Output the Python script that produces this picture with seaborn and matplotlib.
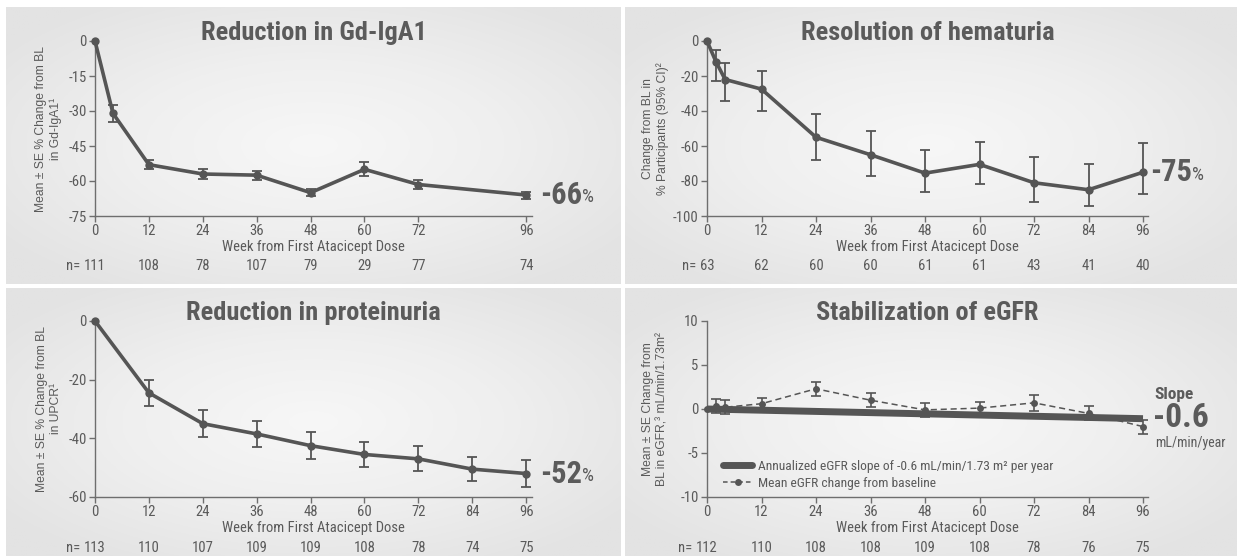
import numpy as np
import matplotlib
matplotlib.use("Agg")
import matplotlib.pyplot as plt
import seaborn as sns
from matplotlib.lines import Line2D
from matplotlib.transforms import blended_transform_factory
from matplotlib.colors import LinearSegmentedColormap
from matplotlib import font_manager

sns.set_theme(style="white")
_avail = {f.name for f in font_manager.fontManager.ttflist}
COND = next((f for f in ['Roboto Condensed', 'Liberation Sans Narrow', 'Arial Narrow',
                         'Open Sans Condensed', 'Liberation Sans'] if f in _avail), 'DejaVu Sans')
IS_COND = COND != 'Liberation Sans'
plt.rcParams['font.family'] = [COND, 'DejaVu Sans']

# ---------------- data ----------------
gd_weeks = [0, 4, 12, 24, 36, 48, 60, 72, 96]
gd_mean = [0, -31, -53, -57, -57.5, -65, -55, -61.5, -66]
gd_se = [0, 3.5, 2, 2, 2, 1.5, 3, 2, 1.5]
gd_n_weeks = [0, 12, 24, 36, 48, 60, 72, 96]
gd_n = [111, 108, 78, 107, 79, 29, 77, 74]
gd_xticks = [0, 12, 24, 36, 48, 60, 72, 96]
gd_yticks = [0, -15, -30, -45, -60, -75]

hem_weeks = [0, 2, 4, 12, 24, 36, 48, 60, 72, 84, 96]
hem_mean = [0, -12, -22, -27.5, -55, -65, -75.5, -70.5, -81, -85, -75]
hem_lo = [0, -23, -34.5, -40, -68, -77, -86, -81.5, -92, -94.5, -87.5]
hem_hi = [0, -5, -12.5, -17, -41.5, -51.5, -62.5, -57.5, -66.5, -70.5, -58.5]
hem_n_weeks = [0, 12, 24, 36, 48, 60, 72, 84, 96]
hem_n = [63, 62, 60, 60, 61, 61, 43, 41, 40]
hem_yticks = [0, -20, -40, -60, -80, -100]

pro_weeks = [0, 12, 24, 36, 48, 60, 72, 84, 96]
pro_mean = [0, -24.5, -35, -38.5, -42.5, -45.5, -47, -50.5, -52]
pro_se = [0, 4.5, 4.5, 4.5, 4.5, 4.2, 4.3, 4.0, 4.5]
pro_n = [113, 110, 107, 109, 109, 108, 78, 74, 75]
pro_yticks = [0, -20, -40, -60]

egfr_weeks = [0, 2, 4, 12, 24, 36, 48, 60, 72, 84, 96]
egfr_mean = [0, 0.3, 0.2, 0.6, 2.3, 1.0, -0.1, 0.1, 0.7, -0.5, -2.0]
egfr_se = [0, 0.8, 0.8, 0.7, 0.8, 0.8, 0.8, 0.7, 0.9, 0.8, 0.8]
egfr_slope_weeks = [0, 96]
egfr_slope_vals = [0, -1.1]
egfr_n_weeks = [0, 12, 24, 36, 48, 60, 72, 84, 96]
egfr_n = [112, 110, 108, 108, 109, 108, 78, 76, 75]
egfr_yticks = [10, 5, 0, -5, -10]

week_ticks = [0, 12, 24, 36, 48, 60, 72, 84, 96]

LINE = '#555555'
TXT = '#5a5a5a'
AX = '#6e6e6e'

S = 1.0 if IS_COND else 0.9   # font scale for non-condensed fallback
TICK_FS = 10.5 * S
TITLE_FS = 19 if IS_COND else 16
BIG_FS = 22 if IS_COND else 20
YLAB_FS = 8.7

W, H = 1237, 556
fig = plt.figure(figsize=(W / 100, H / 100), dpi=100)
fig.patch.set_facecolor('white')


def px_rect(x0, y0, x1, y1):
    return [x0 / W, 1 - y1 / H, (x1 - x0) / W, (y1 - y0) / H]


# panel backgrounds with soft radial gradient
bg_cmap = LinearSegmentedColormap.from_list('bg', ['#f7f7f7', '#efefef', '#e3e3e3'])
yy, xx = np.mgrid[-1:1:200j, -1:1:300j]
grad = np.clip(np.sqrt((xx * 0.8) ** 2 + (yy * 0.8) ** 2), 0, 1.0)
for (x0, y0, x1, y1) in [(6, 7, 621, 284), (625, 7, 1237, 284),
                         (6, 288, 621, 556), (625, 288, 1237, 556)]:
    bax = fig.add_axes(px_rect(x0, y0, x1, y1))
    bax.imshow(grad, cmap=bg_cmap, vmin=0, vmax=1.0, aspect='auto',
               interpolation='bilinear')
    bax.axis('off')


def style(ax, xlim, ylim, xticks, yticks, title, ylabel, ylab_x):
    ax.set_facecolor('none')
    ax.set_xlim(*xlim)
    ax.set_ylim(*ylim)
    ax.set_xticks(xticks)
    ax.set_yticks(yticks)
    ax.set_xticklabels([str(t) for t in xticks])
    ax.set_yticklabels([str(t) for t in yticks])
    for s in ['top', 'right']:
        ax.spines[s].set_visible(False)
    for s in ['left', 'bottom']:
        ax.spines[s].set_color(AX)
        ax.spines[s].set_linewidth(1.0)
    ax.tick_params(direction='out', length=4, width=1, color=AX,
                   labelsize=TICK_FS, labelcolor=TXT, pad=2,
                   left=True, bottom=True)
    ax.set_title(title, fontsize=TITLE_FS, fontweight='bold', color='#5b5b5b', pad=1)
    ax.set_xlabel('Week from First Atacicept Dose', fontsize=TICK_FS,
                  color=TXT, labelpad=1)
    ax.set_ylabel(ylabel, fontsize=YLAB_FS, color=TXT,
                  family=['Liberation Sans', 'DejaVu Sans'], linespacing=1.2)
    ax.yaxis.set_label_coords(ylab_x, 0.5)


def n_row(ax, weeks, ns, yfrac):
    tr = blended_transform_factory(ax.transData, ax.transAxes)
    first = None
    for w, n in zip(weeks, ns):
        t = ax.text(w, yfrac, str(n), transform=tr, ha='center', va='center',
                    fontsize=TICK_FS, color=TXT)
        if first is None:
            first = t
    ax.annotate('n= ', xy=(0, 0.5), xycoords=first, ha='right', va='center',
                fontsize=TICK_FS, color=TXT, annotation_clip=False)


def big_label(ax, x, y, txt):
    t = ax.text(x, y, txt, ha='left', va='center', fontsize=BIG_FS,
                fontweight='bold', color='#5b5b5b', clip_on=False)
    ax.annotate('%', xy=(1.0, 0.12), xycoords=t, ha='left', va='bottom',
                fontsize=BIG_FS * 0.62, color='#5b5b5b', annotation_clip=False)


def main_line(ax, x, y):
    sns.lineplot(x=x, y=y, ax=ax, color=LINE, lw=2.6, marker='o',
                 markersize=6, markeredgewidth=0, clip_on=False, zorder=3)


# ---------- Panel 1: Gd-IgA1 ----------
ax1 = fig.add_axes(px_rect(95, 41, 532, 216))
main_line(ax1, gd_weeks, gd_mean)
ax1.errorbar(gd_weeks[1:], gd_mean[1:], yerr=gd_se[1:], fmt='none',
             ecolor=LINE, elinewidth=1.3, capsize=3.5, capthick=1.3, zorder=2)
style(ax1, (0, 97.3), (-75, 0), gd_xticks, gd_yticks,
      'Reduction in Gd-IgA1', 'Mean ± SE % Change from BL\nin Gd-IgA1¹', -0.076)
n_row(ax1, gd_n_weeks, gd_n, -0.285)
big_label(ax1, 99.0, -66, '-66')

# ---------- Panel 2: hematuria ----------
ax2 = fig.add_axes(px_rect(707, 41, 1148, 216))
main_line(ax2, hem_weeks, hem_mean)
lo_err = [m - l for m, l in zip(hem_mean, hem_lo)]
hi_err = [h - m for m, h in zip(hem_mean, hem_hi)]
ax2.errorbar(hem_weeks[1:], hem_mean[1:], yerr=[lo_err[1:], hi_err[1:]],
             fmt='none', ecolor=LINE, elinewidth=1.3, capsize=3.5,
             capthick=1.3, zorder=2)
style(ax2, (0, 97.1), (-100, 0), week_ticks, hem_yticks,
      'Resolution of hematuria', 'Change from BL in\n% Participants (95% CI)²',
      -0.086)
n_row(ax2, hem_n_weeks, hem_n, -0.285)
big_label(ax2, 97.6, -75, '-75')

# ---------- Panel 3: proteinuria ----------
ax3 = fig.add_axes(px_rect(95, 321, 532, 497))
main_line(ax3, pro_weeks, pro_mean)
ax3.errorbar(pro_weeks[1:], pro_mean[1:], yerr=pro_se[1:], fmt='none',
             ecolor=LINE, elinewidth=1.3, capsize=3.5, capthick=1.3, zorder=2)
style(ax3, (0, 97.3), (-60, 0), week_ticks, pro_yticks,
      'Reduction in proteinuria', 'Mean ± SE % Change from BL\nin UPCR¹', -0.076)
n_row(ax3, week_ticks, pro_n, -0.29)
big_label(ax3, 99.0, -52, '-52')

# ---------- Panel 4: eGFR ----------
ax4 = fig.add_axes(px_rect(707, 321, 1148, 497))
sns.lineplot(x=egfr_slope_weeks, y=egfr_slope_vals, ax=ax4, color=LINE,
             lw=5, zorder=4, solid_capstyle='butt')
sns.lineplot(x=egfr_weeks, y=egfr_mean, ax=ax4, color=LINE, lw=1.1,
             linestyle=(0, (4, 2.5)), marker='o', markersize=5,
             markeredgewidth=0, zorder=3, clip_on=False)
ax4.errorbar(egfr_weeks[1:], egfr_mean[1:], yerr=egfr_se[1:], fmt='none',
             ecolor=LINE, elinewidth=1.2, capsize=3.5, capthick=1.2, zorder=2)
style(ax4, (0, 97.1), (-10, 10), week_ticks, egfr_yticks,
      'Stabilization of eGFR', 'Mean ± SE Change from\nBL in eGFR,³ mL/min/1.73m²',
      -0.088)
n_row(ax4, egfr_n_weeks, egfr_n, -0.29)
handles = [Line2D([0], [0], color=LINE, lw=5),
           Line2D([0], [0], color=LINE, lw=1.1, linestyle=(0, (3, 2)),
                  marker='o', markersize=5, markeredgewidth=0)]
leg = ax4.legend(handles, ['Annualized eGFR slope of -0.6 mL/min/1.73 m² per year',
                           'Mean eGFR change from baseline'],
                 loc='lower left', bbox_to_anchor=(0.025, 0.01), frameon=False,
                 fontsize=9.7 if IS_COND else 8.8, handlelength=2.1,
                 handletextpad=0.5, labelspacing=0.3, borderaxespad=0)
for t in leg.get_texts():
    t.set_color(TXT)
ax4.text(98.6, 1.7, 'Slope', ha='left', va='center', fontsize=12.5 if IS_COND else 11.5,
         fontweight='bold', color='#5b5b5b', clip_on=False)
ax4.text(98.2, -2.0, '-0.6', ha='left', va='baseline', fontsize=BIG_FS + 2,
         fontweight='bold', color='#5b5b5b', clip_on=False)
ax4.text(98.6, -3.9, 'mL/min/year', ha='left', va='center',
         fontsize=10 if IS_COND else 9, color=TXT, clip_on=False)

fig.savefig('out.png', dpi=100, facecolor='white')
